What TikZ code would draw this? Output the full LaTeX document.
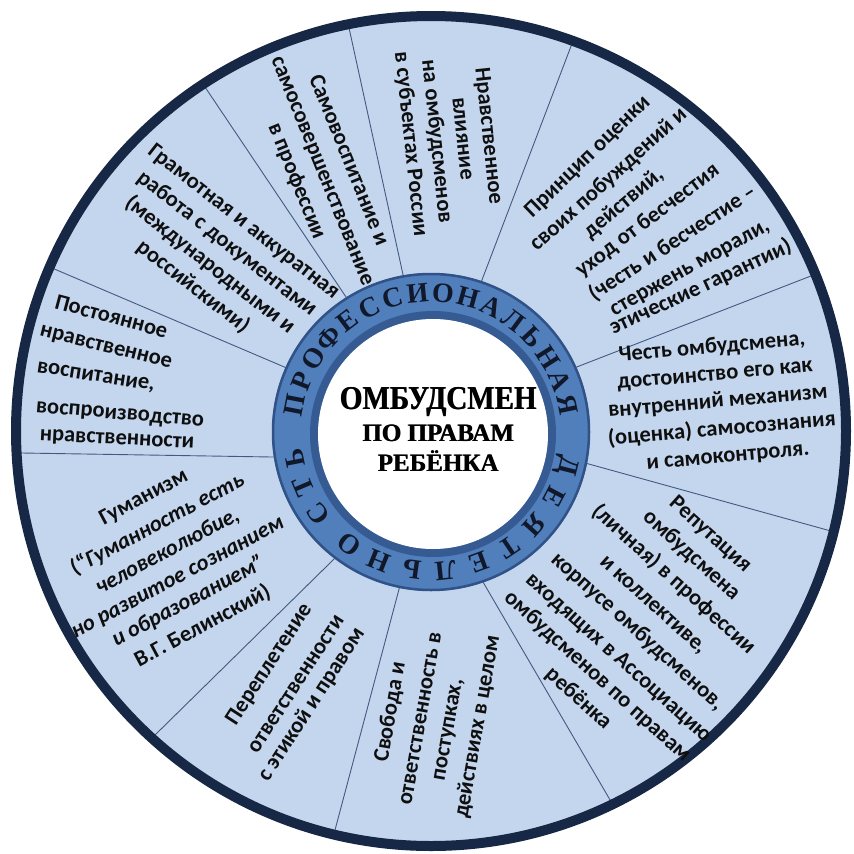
\documentclass[tikz,border=0pt]{standalone}
\usepackage{fontspec}
\setmainfont{Carlito}
\newfontfamily\ringfont{Liberation Serif}
\definecolor{discfill}{RGB}{196,214,238}
\definecolor{discborder}{RGB}{22,40,70}
\definecolor{divline}{RGB}{66,90,130}
\definecolor{ringblue}{RGB}{80,127,188}
\definecolor{ringdark}{RGB}{48,82,135}
\definecolor{ringtext}{RGB}{16,24,42}
\definecolor{txt}{RGB}{15,15,15}
\tikzset{
  divider/.style={draw=divline, line width=0.9pt, shorten <=-25pt, shorten >=-40pt},
  lbl/.style={font=\fontsize{22.5}{26}\selectfont\bfseries, text=txt, inner sep=0pt, text height=15.5pt, text depth=4.7pt},
  ringletter/.style={font=\ringfont\bfseries\fontsize{28}{28}\selectfont, text=ringtext, inner sep=0pt},
  titlebig/.style={font=\ringfont\bfseries\fontsize{29}{29}\selectfont, text=black, inner sep=0pt, anchor=base},
  titlesmall/.style={font=\ringfont\bfseries\fontsize{25}{25}\selectfont, text=black, inner sep=0pt, anchor=base}
}
\begin{document}
\begin{tikzpicture}[x=1pt, y=-1pt]
\useasboundingbox (0,0) rectangle (854,854);
\fill[white] (0,0) rectangle (854,854);
% outer disc
\fill[discfill] (431,431) circle[radius=416pt];
% sector dividers
\begin{scope}
\clip (431,431) circle[radius=413pt];
\draw[divider] (402,270) -- (348.6,26);
\draw[divider] (485,272) -- (572,43.6);
\draw[divider] (587,363) -- (816,274);
\draw[divider] (596,466) -- (820,528);
\draw[divider] (483,582) -- (613,805);
\draw[divider] (398,593) -- (335,830);
\draw[divider] (330,563) -- (155,735);
\draw[divider] (272,457) -- (22,453);
\draw[divider] (282,366) -- (52,268);
\draw[divider] (340,288) -- (207,90);
\end{scope}
\draw[discborder, line width=10pt] (431,431) circle[radius=415pt];
% ring
\fill[ringblue] (431,432) circle[radius=159pt];
\draw[ringdark, line width=2.5pt] (431,432) circle[radius=158pt];
\draw[ringdark!80!ringblue, line width=8pt] (433,434) circle[radius=119pt];
\fill[white] (433,434) circle[radius=115pt];
% ring text
\foreach \ch/\ang [count=\i] in {П/169,Р/158.5,О/148,Ф/137.5,Е/127,С/116.5,С/106,И/95.5,О/85,Н/74.5,А/64,Л/53.5,Ь/43,Н/32.5,А/22,Я/11.5,Д/-14,Е/-28,Я/-42,Т/-56,Е/-70,Л/-84,Ь/-98,Н/-112,О/-126,С/-144,Т/-157,Ь/-169}
  \node[ringletter, rotate=\ang-90] (rl\i) at ({431+139*cos(\ang)},{432-139*sin(\ang)}) {\ch};
% centre title
\node[titlebig] (t1s) at (438.7,409) {\scalebox{1}[1.15]{ОМБУДСМЕН}};
\node[titlebig] (t1) at (438,409) {\scalebox{1}[1.15]{ОМБУДСМЕН}};
\node[titlesmall] (t2s) at (438.6,441) {ПО ПРАВАМ};
\node[titlesmall] (t2) at (438,441) {ПО ПРАВАМ};
\node[titlesmall] (t3s) at (438.6,471) {РЕБЁНКА};
\node[titlesmall] (t3) at (438,471) {РЕБЁНКА};
% sector 1
\node[lbl, rotate=-68] (s1a) at (348,160.5) {Самовоспитание и};
\node[lbl, rotate=-68] (s1b) at (322,171) {самосовершенствование};
\node[lbl, rotate=-68] (s1c) at (296,181.5) {в профессии};
% sector 2
\node[lbl, rotate=-84] (s2a) at (488,136) {Нравственное};
\node[lbl, rotate=-84] (s2b) at (462,138.6) {влияние};
\node[lbl, rotate=-84] (s2c) at (436,141.4) {на омбудсменов};
\node[lbl, rotate=-84] (s2d) at (410,144) {в субъектах России};
% sector 3
\node[lbl, rotate=44] (s3a) at (588,157) {Принцип оценки};
\node[lbl, rotate=42] (s3b) at (609,180) {своих побуждений и};
\node[lbl, rotate=40] (s3c) at (624,204) {действий,};
\node[lbl, rotate=37] (s3d) at (648,221) {уход от бесчестия};
\node[lbl, rotate=33] (s3e) at (673,244) {(честь и бесчестие –};
\node[lbl, rotate=29] (s3f) at (690,268) {стержень морали,};
\node[lbl, rotate=25] (s3g) at (701,288) {этические гарантии)};
% sector 4
\node[lbl, rotate=5] (s4a) at (712,348) {Честь омбудсмена,};
\node[lbl, rotate=5] (s4b) at (715,375) {достоинство его как};
\node[lbl, rotate=5] (s4c) at (718,402) {внутренний механизм};
\node[lbl, rotate=5] (s4d) at (722,430) {(оценка) самосознания};
\node[lbl, rotate=5] (s4e) at (728,457) {и самоконтроля.};
% sector 5
\node[lbl, rotate=-42] (s5a) at (710,535) {Репутация};
\node[lbl, rotate=-42] (s5b) at (691,556) {омбудсмена};
\node[lbl, rotate=-42] (s5c) at (673,580) {(личная) в профессии};
\node[lbl, rotate=-42] (s5d) at (653,605) {и коллективе,};
\node[lbl, rotate=-42] (s5e) at (637,632) {корпусе омбудсменов,};
\node[lbl, rotate=-42] (s5f) at (618,658) {входящих в Ассоциацию};
\node[lbl, rotate=-42] (s5g) at (597,677) {омбудсменов по правам};
\node[lbl, rotate=-42] (s5h) at (578,699) {ребёнка};
% sector 6
\node[lbl, rotate=80] (s6a) at (391,712) {Свобода и};
\node[lbl, rotate=80] (s6b) at (421,719) {ответственность в};
\node[lbl, rotate=80] (s6c) at (448,730) {поступках,};
\node[lbl, rotate=80] (s6d) at (478,727) {действиях в целом};
% sector 7
\node[lbl, rotate=57] (s7a) at (269.5,664.5) {Переплетение};
\node[lbl, rotate=57] (s7b) at (296.5,684.5) {ответственности};
\node[lbl, rotate=57] (s7c) at (312,705) {с этикой и правом};
% sector 8
\node[lbl, rotate=28] (s8a) at (144,498) {Гуманизм};
\node[lbl, rotate=28] (s8b) at (158,525) {(“\textit{Гуманность есть}};
\node[lbl, rotate=28] (s8c) at (168,552) {\textit{человеколюбие,}};
\node[lbl, rotate=28] (s8d) at (178,578) {\textit{но развитое сознанием}};
\node[lbl, rotate=28] (s8e) at (189,602) {\textit{и образованием”}};
\node[lbl, rotate=28] (s8f) at (203,627) {В.Г. Белинский)};
% sector 9
\node[lbl, rotate=-15] (s9a) at (111,318) {Постоянное};
\node[lbl, rotate=-14] (s9b) at (106,347) {нравственное};
\node[lbl, rotate=-9] (s9c) at (96,376) {воспитание,};
\node[lbl, rotate=-5] (s9d) at (120,414) {воспроизводство};
\node[lbl, rotate=-3] (s9e) at (117,439) {нравственности};
% sector 10
\node[lbl, rotate=-38] (s10a) at (243.4,222.5) {Грамотная и аккуратная};
\node[lbl, rotate=-38] (s10b) at (226.5,244.2) {работа с документами};
\node[lbl, rotate=-38] (s10c) at (209.5,265.8) {(международными и};
\node[lbl, rotate=-38] (s10d) at (192.6,287.5) {российскими)};
\end{tikzpicture}
\end{document}
